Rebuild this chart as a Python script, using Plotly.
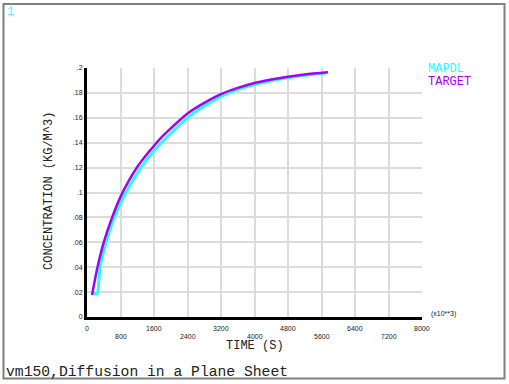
import plotly.graph_objects as go

# ---------------- data ----------------
target_time = [120, 250, 400, 600, 800, 1000, 1200, 1400, 1600, 1800, 2000, 2400, 2800, 3200, 3600, 4000, 4400, 4800, 5200, 5755]
target_conc = [0.0177, 0.040, 0.060, 0.080, 0.0965, 0.1095, 0.1205, 0.1295, 0.1375, 0.1450, 0.1515, 0.1635,
               0.172, 0.179, 0.184, 0.188, 0.1908, 0.193, 0.1948, 0.1966]

mapdl_time = [150, 245, 310, 454, 650, 900, 1100, 1300, 1500, 1750, 2000, 2400, 2800, 3200, 3600, 4000, 4400, 4800, 5200, 5700]
mapdl_conc = [0.019, 0.019, 0.040, 0.060, 0.080, 0.098, 0.110, 0.1205, 0.1295, 0.139, 0.1475, 0.160,
              0.1695, 0.1772, 0.1828, 0.1868, 0.1898, 0.1922, 0.1942, 0.1960]

x_tickvals = [0, 800, 1600, 2400, 3200, 4000, 4800, 5600, 6400, 7200, 8000]
x_ticktext = ["0", "800", "1600", "2400", "3200", "4000", "4800", "5600", "6400", "7200", "8000"]
y_tickvals = [0, 0.02, 0.04, 0.06, 0.08, 0.10, 0.12, 0.14, 0.16, 0.18, 0.20]
y_ticktext = ["0", ".02", ".04", ".06", ".08", ".1", ".12", ".14", ".16", ".18", ".2"]

series_names = ["MAPDL", "TARGET"]
series_colors = ["#22ffff", "#a400ff"]

W, H = 509, 384
L, R, T, B = 87, 87, 68, 67
PW, PH = W - L - R, H - T - B


def px(x):
    return (x - L) / PW


def py(y):
    return (H - B - y) / PH


MONO = "Courier New, Liberation Mono, monospace"
SANS = "Liberation Sans, Arial, sans-serif"

fig = go.Figure()
fig.add_trace(go.Scatter(x=mapdl_time, y=mapdl_conc, mode="lines",
                         line=dict(color=series_colors[0], width=3, shape="spline", smoothing=0.5),
                         showlegend=False))
fig.add_trace(go.Scatter(x=target_time, y=target_conc, mode="lines",
                         line=dict(color=series_colors[1], width=2.5, shape="spline", smoothing=0.8),
                         showlegend=False))

fig.update_layout(
    width=W, height=H,
    margin=dict(l=L, r=R, t=T, b=B),
    paper_bgcolor="white", plot_bgcolor="white",
    showlegend=False,
)
fig.update_xaxes(range=[0, 8000], tickvals=x_tickvals, showticklabels=False,
                 showgrid=True, gridcolor="#dcdcdc", gridwidth=2, zeroline=False,
                 showline=True, linecolor="black", linewidth=3, ticks="")
fig.update_yaxes(range=[0, 0.2], tickvals=y_tickvals, ticktext=y_ticktext,
                 showgrid=True, gridcolor="#dcdcdc", gridwidth=2, zeroline=False,
                 showline=True, linecolor="black", linewidth=3, ticks="",
                 tickfont=dict(family=SANS, size=7, color="#222"))

annotations = []
# staggered x tick labels
for i, (v, t) in enumerate(zip(x_tickvals, x_ticktext)):
    ypx = 328 if i % 2 == 0 else 336
    annotations.append(dict(x=v, y=py(ypx), xref="x", yref="paper", text=t, showarrow=False,
                            xanchor="center", yanchor="middle",
                            font=dict(family=SANS, size=7, color="#222")))
annotations.append(dict(x=px(429), y=py(314), xref="paper", yref="paper", text="(x10**3)",
                        showarrow=False, xanchor="left", yanchor="middle",
                        font=dict(family=SANS, size=7, color="#222")))
# axis titles
annotations.append(dict(x=0.5, y=py(346), xref="paper", yref="paper", text="TIME (S)",
                        showarrow=False, xanchor="center", yanchor="middle",
                        font=dict(family=MONO, size=12, color="#222")))
annotations.append(dict(x=px(49), y=py(191), xref="paper", yref="paper",
                        text="CONCENTRATION (KG/M^3)", textangle=-90,
                        showarrow=False, xanchor="center", yanchor="middle",
                        font=dict(family=MONO, size=12, color="#222")))
# legend labels
for i, (n, c) in enumerate(zip(series_names, series_colors)):
    annotations.append(dict(x=px(426), y=py(69 + 12.5 * i), xref="paper", yref="paper", text=n,
                            showarrow=False, xanchor="left", yanchor="middle",
                            font=dict(family=MONO, size=12, color=c)))
# window number and caption
annotations.append(dict(x=px(5), y=py(11.5), xref="paper", yref="paper", text="1",
                        showarrow=False, xanchor="left", yanchor="middle",
                        font=dict(family=MONO, size=12, color="#44ffff")))
annotations.append(dict(x=px(4), y=py(372), xref="paper", yref="paper",
                        text="vm150,Diffusion in a Plane Sheet",
                        showarrow=False, xanchor="left", yanchor="middle",
                        font=dict(family=MONO, size=14.7, color="#222")))
fig.update_layout(annotations=annotations)

# window frame
fig.add_shape(type="rect", xref="paper", yref="paper",
              x0=px(3.5), x1=px(504.5), y0=py(378.5), y1=py(4),
              line=dict(color="#808080", width=2), fillcolor="rgba(0,0,0,0)", layer="above")

fig.write_html("out.html", config={"displayModeBar": False},
               post_script="document.body.style.margin='0';document.body.style.overflow='hidden';")
